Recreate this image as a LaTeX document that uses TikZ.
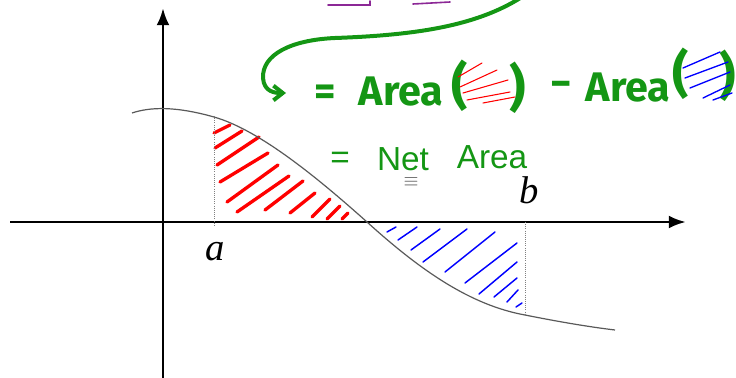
\documentclass[tikz,border=0pt]{standalone}
\usepackage{fontspec}
\setmainfont{Liberation Serif}
\newfontfamily\handfont{Fira Sans}
\newfontfamily\thinfont{Liberation Sans}
\usetikzlibrary{arrows.meta}
\definecolor{inkgreen}{RGB}{20,150,20}
\definecolor{inkpurple}{RGB}{140,40,150}

\begin{document}
\begin{tikzpicture}[
    x=0.75pt, y=-0.75pt,
    >=Latex,
    axis/.style={line width=2.2pt},
    bound/.style={densely dotted, gray, line width=0.6pt},
    graph/.style={gray!70!black, line width=0.9pt},
    redhatch/.style={red, line width=2.5pt, line cap=round},
    bluehatch/.style={blue, line width=1.1pt, line cap=round},
    smallred/.style={red, line width=0.8pt, line cap=round},
    smallblue/.style={blue, line width=1pt, line cap=round},
    hand/.style={text=inkgreen, inner sep=0pt,
                 font=\handfont\bfseries\fontsize{31}{31}\selectfont},
    paren/.style={hand, font=\handfont\bfseries\fontsize{38}{38}\selectfont},
    thin/.style={text=inkgreen, inner sep=0pt,
                 font=\thinfont\fontsize{25}{25}\selectfont},
    limit/.style={inner sep=0pt, font=\itshape\fontsize{29}{29}\selectfont}
  ]
  \useasboundingbox (0,0) rectangle (736,378);

  % axes
  \coordinate (O) at (163,222);
  \coordinate (xl) at (10,222);
  \coordinate (xr) at (686,222);
  \coordinate (yb) at (163,380);
  \coordinate (yt) at (163,8);
  \draw[axis, ->] (xl) -- (xr);
  \draw[axis, ->] (yb) -- (yt);

  % hatching under the curve
  \foreach \xa/\ya/\xb/\yb in {214/133/230/125, 215/148/242/131, 217/165/259/137,
      220/182/268/153, 227/202/278/165, 237/212/289/176, 265/210/303/181,
      290/213/315/193, 312/217/330/199, 327/219/340/206, 342/219/348/213}
    \draw[redhatch] (\xa,\ya) -- (\xb,\yb);
  \foreach \xa/\ya/\xb/\yb in {387/232/396/227, 398/240/417/227, 411/250/440/229,
      423/262/467/229, 445/272/495/232, 465/283/517/243, 479/294/517/262,
      494/297/517/278, 507/302/518/290, 516/307/522/303}
    \draw[bluehatch] (\xa,\ya) -- (\xb,\yb);

  % the function
  \draw[graph] (132,113) .. controls (150,107) and (175,106) .. (214,117)
    .. controls (260,130) and (320,180) .. (367,222)
    .. controls (420,270) and (470,305) .. (525,315)
    .. controls (560,322) and (590,327) .. (615,330);

  % limits of integration
  \coordinate (atop) at (214,116);
  \coordinate (abot) at (214,226);
  \coordinate (btop) at (525,222);
  \coordinate (bbot) at (525,315);
  \draw[bound] (atop) -- (abot);
  \draw[bound] (btop) -- (bbot);
  \node[limit] (a) at (215,252) {a};
  \node[limit] (b) at (529,190) {b};

  % ink at the top
  \draw[inkpurple, line width=1.2pt, line cap=round] (328,5) -- (370,5) -- (370,1);
  \draw[inkpurple, line width=1.2pt, line cap=round] (413,4) -- (450,2);
  \coordinate (from) at (525,-5);
  \coordinate (to) at (286,93);
  \draw[inkgreen, line width=3pt, line cap=round,
        -{Straight Barb[length=7pt, width=11pt]}]
    (from) .. controls (480,25) and (420,35) .. (335,38)
    .. controls (290,40) and (262,55) .. (263,78)
    .. controls (264,92) and (275,93) .. (to);

  % = Area( red ) - Area( blue )
  \node[hand] (eq1) at (325,95) {=};
  \node[hand] (area1) at (401,92) {Area};
  \node[paren] (lp1) at (460,86) {(};
  \node[paren] (rp1) at (518,88) {)};
  \foreach \xa/\ya/\xb/\yb in {458/77/482/63, 460/87/497/70, 463/93/508/80,
      467/100/510/92, 483/103/515/97}
    \draw[smallred] (\xa,\ya) -- (\xb,\yb);
  \node[hand] (minus) at (561,89) {−};
  \node[hand] (area2) at (628,88) {Area};
  \node[paren] (lp2) at (681,74) {(};
  \node[paren] (rp2) at (728,76) {)};
  \foreach \xa/\ya/\xb/\yb in {683/68/720/52, 685/78/728/62, 690/88/730/72,
      703/98/730/85, 713/100/732/93}
    \draw[smallblue] (\xa,\ya) -- (\xb,\yb);

  % = Net Area
  \node[thin] (eq2) at (340,160) {=};
  \node[thin] (net) at (403,159) {Net};
  \node[thin] (area3) at (492,157) {Area};
  \node[inner sep=0pt, text=black!70, font=\fontsize{15}{15}\selectfont]
    (equiv) at (411,182) {$\equiv$};
\end{tikzpicture}
\end{document}
